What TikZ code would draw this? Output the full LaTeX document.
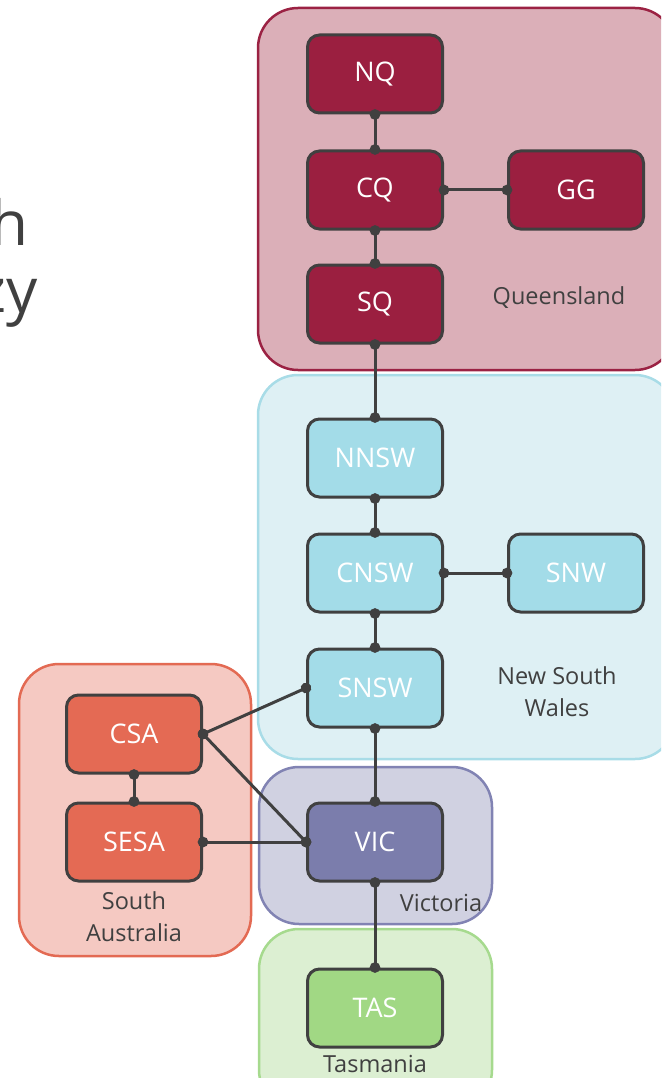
\documentclass[tikz,border=0pt]{standalone}
\usepackage{fontspec}
\setmainfont{Open Sans}
\usetikzlibrary{arrows.meta}
\definecolor{linecol}{HTML}{404040}
\definecolor{qldarea}{HTML}{DBAFB8}
\definecolor{qldline}{HTML}{9B2243}
\definecolor{qldbox}{HTML}{9B1F40}
\definecolor{nswarea}{HTML}{DEF0F4}
\definecolor{nswline}{HTML}{A8DCE7}
\definecolor{nswbox}{HTML}{A3DCE8}
\definecolor{vicarea}{HTML}{D0D1E1}
\definecolor{vicline}{HTML}{8183B3}
\definecolor{vicbox}{HTML}{7B7DAC}
\definecolor{tasarea}{HTML}{DCEFD2}
\definecolor{tasline}{HTML}{A6DA8E}
\definecolor{tasbox}{HTML}{A1D884}
\definecolor{saarea}{HTML}{F5C9C2}
\definecolor{saline}{HTML}{E36A53}
\definecolor{sabox}{HTML}{E46A54}
\begin{document}
\begin{tikzpicture}[x=1pt, y=-1pt,
  area/.style={rounded corners=40pt, line width=2.5pt},
  zone/.style={draw=linecol, line width=3pt, rounded corners=12pt, minimum width=135pt, minimum height=78pt, text=white, font=\fontsize{27}{27}\selectfont},
  link/.style={draw=linecol, line width=3pt, {Circle[length=10.5pt]}-{Circle[length=10.5pt]}, shorten <=-5.25pt, shorten >=-5.25pt},
  areatext/.style={text=linecol, font=\fontsize{23.5}{32}\selectfont, align=center},
  titletext/.style={text=linecol, font=\fontsize{62}{62}\selectfont, inner sep=0pt}]
  \useasboundingbox (0,0) rectangle (661,1078);
  \clip (0,0) rectangle (661,1078);
  \node[titletext, anchor=base east] (title1) at (29,245) {h};
  \node[titletext, anchor=base east] (title2) at (38,312) {zy};
  \draw[area, fill=qldarea, draw=qldline] (258,8) rectangle (675,370);
  \draw[area, fill=nswarea, draw=nswline] (258,375) rectangle (675,759);
  \draw[area, fill=vicarea, draw=vicline] (259,767) rectangle (492,924);
  \draw[area, fill=tasarea, draw=tasline] (259,929) rectangle (492,1110);
  \draw[area, fill=saarea, draw=saline] (19,664) rectangle (251,956);
  \node[areatext] (qldlabel) at (559,298) {Queensland};
  \node[areatext] (nswlabel) at (557,692) {New South\\Wales};
  \node[areatext, anchor=base] (viclabel) at (441,911) {Victoria};
  \node[areatext, anchor=base] (taslabel) at (375,1072) {Tasmania};
  \node[areatext] (salabel) at (134,917) {South\\Australia};
  \node[zone, fill=qldbox] (NQ) at (375,74) {NQ};
  \node[zone, fill=qldbox] (CQ) at (375,190) {CQ};
  \node[zone, fill=qldbox] (GG) at (576,190) {GG};
  \node[zone, fill=qldbox] (SQ) at (375,304) {SQ};
  \node[zone, fill=nswbox] (NNSW) at (375,458) {NNSW};
  \node[zone, fill=nswbox] (CNSW) at (375,573) {CNSW};
  \node[zone, fill=nswbox] (SNW) at (576,573) {SNW};
  \node[zone, fill=nswbox] (SNSW) at (375,688) {SNSW};
  \node[zone, fill=vicbox] (VIC) at (375,842) {VIC};
  \node[zone, fill=tasbox] (TAS) at (375,1008) {TAS};
  \node[zone, fill=sabox] (CSA) at (134,734) {CSA};
  \node[zone, fill=sabox] (SESA) at (134,842) {SESA};
  \draw[link] (NQ.south) -- (CQ.north);
  \draw[link] (CQ.east) -- (GG.west);
  \draw[link] (CQ.south) -- (SQ.north);
  \draw[link] (SQ.south) -- (NNSW.north);
  \draw[link] (NNSW.south) -- (CNSW.north);
  \draw[link] (CNSW.east) -- (SNW.west);
  \draw[link] (CNSW.south) -- (SNSW.north);
  \draw[link] (SNSW.south) -- (VIC.north);
  \draw[link] (VIC.south) -- (TAS.north);
  \draw[link] (CSA.south) -- (SESA.north);
  \draw[link] (CSA.east) -- (SNSW.west);
  \draw[link] (CSA.east) -- (VIC.west);
  \draw[link] (SESA.east) -- (VIC.west);
\end{tikzpicture}
\end{document}
